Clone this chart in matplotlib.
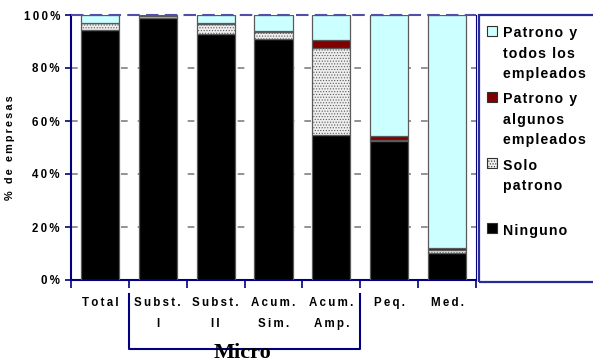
import matplotlib
matplotlib.use('Agg')
import matplotlib.pyplot as plt
import matplotlib.transforms as mtransforms
from matplotlib.patches import Rectangle
import numpy as np

plt.rcParams['font.family'] = ['Liberation Sans', 'DejaVu Sans']
plt.rcParams['hatch.color'] = '#d2d2d2'
plt.rcParams['hatch.linewidth'] = 0.5

categories = ['Total', 'Subst.\nI', 'Subst.\nII', 'Acum.\nSim.', 'Acum.\nAmp.', 'Peq.', 'Med.']
ninguno = [94.3, 99.0, 92.8, 90.9, 54.7, 52.6, 10.3]
solo_patrono = [2.5, 0.6, 3.9, 2.8, 32.7, 0.2, 1.0]
patrono_algunos = [0.1, 0.1, 0.1, 0.2, 3.0, 1.5, 0.7]
patrono_todos = [3.1, 0.3, 3.2, 6.1, 9.6, 45.7, 88.0]

series_labels = ['Ninguno', 'Solo\npatrono', 'Patrono y\nalgunos\nempleados', 'Patrono y\ntodos los\nempleados']
series_colors = ['#000000', '#eeeeee', '#800000', '#ccffff']
series_hatch = [None, '......', None, None]
yticks = [0, 20, 40, 60, 80, 100]
group_label = 'Micro'

NAVY = '#000080'
DPI = 100


def sp(s, gap='\u2009'):
    # fake letter spacing with narrow spaces
    return '\n'.join(gap.join(line) for line in s.split('\n'))


fig = plt.figure(figsize=(5.93, 3.62), dpi=DPI)
ax = fig.add_axes([71 / 593, 1 - 280 / 362, 405 / 593, 265 / 362])

x = np.arange(len(categories))
bottom = np.zeros(len(categories))
for vals, col, h in zip([ninguno, solo_patrono, patrono_algunos, patrono_todos], series_colors, series_hatch):
    ax.bar(x, vals, width=0.66, bottom=bottom, color=col, edgecolor='#5a5a5a',
           linewidth=0.9, hatch=h, zorder=3)
    bottom += np.array(vals)

ax.set_xlim(-0.5, len(categories) - 0.5)
ax.set_ylim(0, 100)

# grid
for yv in yticks[1:-1]:
    ax.axhline(yv, color='#808080', linestyle=(0, (4, 6)), linewidth=1.2, zorder=1)
ax.axhline(100, color='#5050a8', linestyle=(0, (6, 3)), linewidth=1.5, zorder=4, clip_on=False)

for s in ['left', 'bottom']:
    ax.spines[s].set_color(NAVY)
    ax.spines[s].set_linewidth(1.5)
ax.spines['top'].set_visible(False)
ax.spines['right'].set_color(NAVY)
ax.spines['right'].set_linewidth(0.8)

ax.set_yticks(yticks)
ax.set_yticklabels([sp(f'{v}%', '\u2009') for v in yticks], fontsize=8.3, fontweight='bold')
ax.tick_params(axis='y', length=4, width=1.2, color=NAVY, pad=4)

ax.set_xticks(np.arange(-0.5, len(categories)))
ax.set_xticklabels([])
ax.tick_params(axis='x', length=6, width=1.2, color=NAVY)

trans = mtransforms.blended_transform_factory(ax.transData, ax.transAxes)
for xi, lab in zip(x, categories):
    ax.text(xi, -0.065, sp(lab), transform=trans, ha='center', va='top',
            fontsize=8.3, fontweight='bold', linespacing=1.95)

ax.set_ylabel(sp('% de empresas', '\u2009'), fontsize=7.8, fontweight='bold', labelpad=6)

# Micro bracket
yb0, yb1 = -0.053, -0.260
ax.plot([0.5, 0.5, 4.5, 4.5], [yb0, yb1, yb1, yb0], transform=trans, color=NAVY,
        linewidth=1.5, clip_on=False)
ax.text(2.46, -0.294, group_label, transform=trans, ha='center', va='baseline',
        fontsize=16, fontweight='bold', family='Liberation Serif')

# legend box drawn by hand
H = 362
fig.patches.append(Rectangle((479 / 593, 1 - 282 / H), 200 / 593, 267 / H,
                             transform=fig.transFigure, facecolor='none',
                             edgecolor='#2a2a98', linewidth=1.6))
entry_tops = [26, 92, 158, 223]
for top, lab, col, h in zip(entry_tops, series_labels[::-1], series_colors[::-1], series_hatch[::-1]):
    fig.patches.append(Rectangle((487 / 593, 1 - (top + 10) / H), 10 / 593, 10 / H,
                                 transform=fig.transFigure, facecolor=col,
                                 edgecolor='#303030', linewidth=0.8, hatch=h))
    fig.text(503 / 593, 1 - (top + 0.5) / H, sp(lab, '\u200a'), ha='left', va='top',
             fontsize=10.2, fontweight='bold', linespacing=1.55)

fig.savefig('out.png', dpi=DPI)
